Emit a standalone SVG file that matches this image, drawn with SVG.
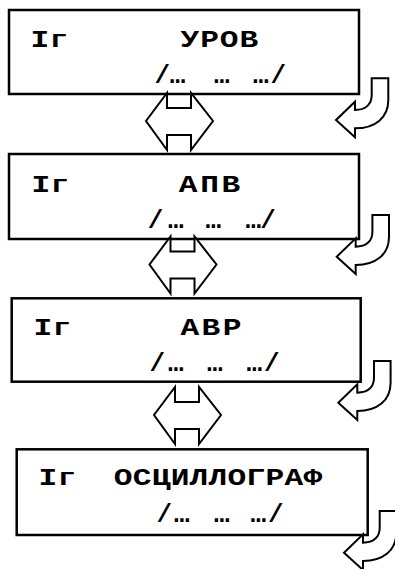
<svg xmlns="http://www.w3.org/2000/svg" xmlns:xlink="http://www.w3.org/1999/xlink" width="395" height="569" viewBox="0 0 395 569">
<style>
.box{fill:#fff;stroke:#000;stroke-width:2.5}
.t{font-family:"Courier New","Liberation Mono",monospace;font-weight:bold;font-size:24px;fill:#000}
.s{font-family:"Courier New","Liberation Mono",monospace;font-weight:bold;font-size:26px;fill:#000}
.ar{fill:#fff;stroke:#000;stroke-width:2;stroke-linejoin:miter}
</style>
<defs>
<path id="uturn" d="M35.7,-41.7 L52.3,-41.7 L52.3,-20 C52.3,-2 39,8.3 19,8.3 L19,17.3 L0,0 L19,-18.3 L19,-10 C30,-10 35.7,-16 35.7,-25 Z"/>
<path id="dbl" d="M21,0 L21,15 L45,15 L45,0 L67,28 L45,57 L45,42 L21,42 L21,57 L0,28 Z"/>
</defs>
<g id="node1">
<rect class="box" x="9" y="10" width="350" height="84"/>
<text class="t" transform="translate(30.5,47) scale(1.3,1)" letter-spacing="0.3">Iг</text>
<text class="t" transform="translate(180.5,47) scale(1.3,1)" letter-spacing="0.7">УРОВ</text>
<text class="s" x="154.5 169.7 185 213.9 229 253.1 270.5" y="83">/… … …/</text>
</g>
<g id="node2">
<rect class="box" x="9" y="154" width="350" height="85"/>
<text class="t" transform="translate(31.5,192) scale(1.3,1)" letter-spacing="0.3">Iг</text>
<text class="t" transform="translate(178.7,192) scale(1.3,1)" letter-spacing="2.1">АПВ</text>
<text class="s" x="147.7 168 184 205.5 221 245.5 260.2" y="228">/… … …/</text>
</g>
<g id="node3">
<rect class="box" x="11.7" y="298.3" width="349" height="83.4"/>
<text class="t" transform="translate(33.5,335) scale(1.3,1)" letter-spacing="0.3">Iг</text>
<text class="t" transform="translate(180.4,335) scale(1.3,1)" letter-spacing="1.9">АВР</text>
<text class="s" x="149.5 168 184 206.9 222 246.4 263.9" y="370.7">/… … …/</text>
</g>
<g id="node4">
<rect class="box" x="16.7" y="449.3" width="351" height="85.7"/>
<text class="t" transform="translate(38.5,485) scale(1.3,1)" letter-spacing="0.3">Iг</text>
<text class="t" transform="translate(113.7,485) scale(1.3,1)" letter-spacing="0.2">ОСЦИЛЛОГРАФ</text>
<text class="s" x="156.4 173.9 190 213.9 229 250.5 268" y="521.7">/… … …/</text>
</g>
<g id="connectors">
<use xlink:href="#dbl" class="ar" transform="translate(146,93)"/>
<use xlink:href="#dbl" class="ar" transform="translate(149.5,236.5)"/>
<use xlink:href="#dbl" class="ar" transform="translate(154,387)"/>
<use xlink:href="#uturn" class="ar" transform="translate(336,120)"/>
<use xlink:href="#uturn" class="ar" transform="translate(336.7,256.7)"/>
<use xlink:href="#uturn" class="ar" transform="translate(338.3,402.7)"/>
<use xlink:href="#uturn" class="ar" transform="translate(344,552.7)"/>
</g>
</svg>
